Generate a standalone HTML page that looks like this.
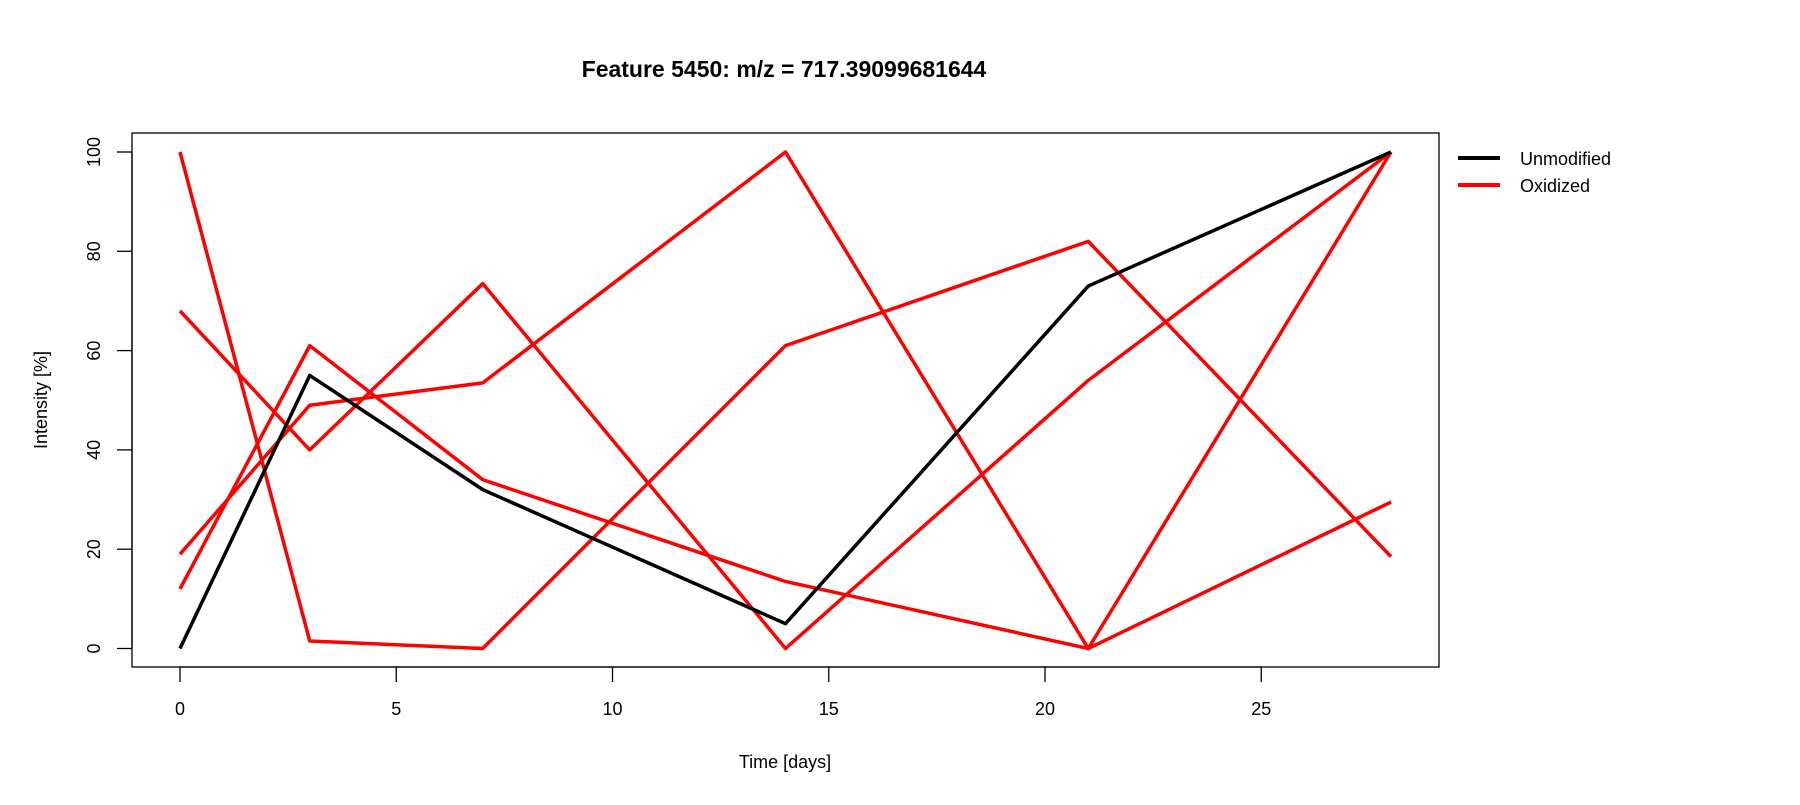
<!DOCTYPE html>
<html><head><meta charset="utf-8"><style>
body{margin:0;background:#fff;}
svg text{font-family:"Liberation Sans",Arial,sans-serif;fill:#000;}
</style></head><body>
<svg id="chart" width="1800" height="800" xmlns="http://www.w3.org/2000/svg">
<text x="784" y="77" text-anchor="middle" font-size="23" font-weight="bold">Feature 5450: m/z = 717.39099681644</text>
<rect x="132" y="133" width="1307" height="534" fill="none" stroke="#000" stroke-width="1.3"/>
<g id="axes"></g>
<g id="series"></g>
<text x="785" y="768" text-anchor="middle" font-size="18">Time [days]</text>
<text transform="translate(47,400) rotate(-90)" text-anchor="middle" font-size="18">Intensity [%]</text>
<g>
<line x1="1458" y1="158" x2="1500" y2="158" stroke="#000" stroke-width="4"/>
<text x="1520" y="165" font-size="18">Unmodified</text>
<line x1="1458" y1="185" x2="1500" y2="185" stroke="#f00" stroke-width="4"/>
<text x="1520" y="192" font-size="18">Oxidized</text>
</g>
</svg>
<script>
const days=[0,3,7,14,21,28];
const unmodified=[0,55,32,5,73,100];
const oxidizedA=[100,1.5,0,61,82,18.5];
const oxidizedB=[68,40,73.5,0,54,100];
const oxidizedC=[12,61,34,13.5,0,29.5];
const oxidizedD=[19,49,53.5,100,0,100];
const xTicks=[0,5,10,15,20,25];
const yTicks=[0,20,40,60,80,100];
const NS="http://www.w3.org/2000/svg";
function xs(v){return 180+(v/28)*(1391-180);}
function ys(v){return 648.5-(v/100)*(648.5-152);}
const axes=document.getElementById('axes');
function mk(t,a,p){const e=document.createElementNS(NS,t);for(const k in a)e.setAttribute(k,a[k]);p.appendChild(e);return e;}
mk('line',{x1:xs(0),y1:667,x2:xs(25),y2:667,stroke:'#000','stroke-width':1.3},axes);
mk('line',{x1:132,y1:ys(0),x2:132,y2:ys(100),stroke:'#000','stroke-width':1.3},axes);
xTicks.forEach(v=>{
 const l=mk('line',{x1:xs(v),y1:667,x2:xs(v),y2:682,stroke:'#000','stroke-width':1.3},axes);
 
 
 const t=mk('text',{x:xs(v),y:715,'text-anchor':'middle','font-size':18},axes);
 
 
 t.textContent=v;
});
yTicks.forEach(v=>{
 const l=mk('line',{x1:117,y1:ys(v),x2:132,y2:ys(v),stroke:'#000','stroke-width':1.3},axes);
 
 
 const t=mk('text',{transform:`translate(100,${ys(v)}) rotate(-90)`,'text-anchor':'middle','font-size':18},axes);
 
 
 t.textContent=v;
});
const sg=document.getElementById('series');
function drawLine(vals,color,name){
 const pts=vals.map((v,i)=>xs(days[i])+','+ys(v)).join(' ');
 const p=mk('polyline',{points:pts,fill:'none',stroke:color,'stroke-width':3.5,'stroke-linejoin':'round'},sg);
 
 
}
drawLine(oxidizedA,'#f00','oxidized-line-a');
drawLine(oxidizedB,'#f00','oxidized-line-b');
drawLine(oxidizedC,'#f00','oxidized-line-c');
drawLine(oxidizedD,'#f00','oxidized-line-d');
drawLine(unmodified,'#000','unmodified-line');
</script>
</body></html>
